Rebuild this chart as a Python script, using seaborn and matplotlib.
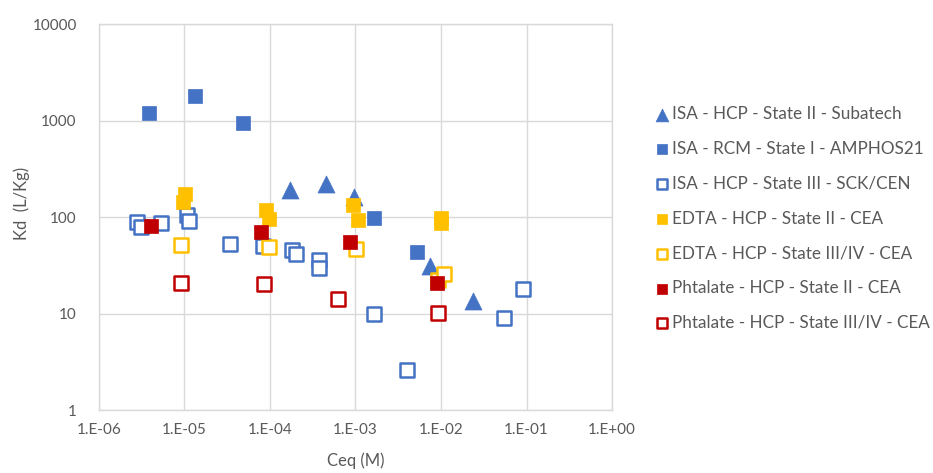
import math
import matplotlib
matplotlib.use("Agg")
import matplotlib.pyplot as plt
import matplotlib.ticker as mticker
import seaborn as sns

sns.set_theme(style="white")
plt.rcParams["font.family"] = ["Lato", "DejaVu Sans"]

BLUE = "#4472C4"
ORANGE = "#FFC000"
RED = "#C00000"
GREY_TEXT = "#595959"
GRID = "#D9D9D9"

# Ceq (M) and Kd (L/Kg) per series
isa_subatech_x = [1.73e-4, 4.48e-4, 9.7e-4, 7.4e-3, 2.35e-2]
isa_subatech_y = [190, 218, 162, 31, 13.5]

isa_amphos_x = [3.9e-6, 1.33e-5, 4.9e-5, 1.65e-3, 5.3e-3]
isa_amphos_y = [1200, 1820, 940, 98, 43]

isa_sck_x = [2.78e-6, 3.08e-6, 5.27e-6, 1.06e-5, 1.14e-5, 3.4e-5, 8.2e-5,
             1.79e-4, 2.0e-4, 3.7e-4, 3.7e-4, 1.65e-3, 4.05e-3, 5.4e-2, 9.2e-2]
isa_sck_y = [89, 79, 86, 105, 92, 53, 50, 46, 41, 36, 29.5, 10, 2.6, 9, 17.8]

edta_ii_x = [1.02e-5, 9.5e-6, 9.1e-5, 9.8e-5, 9.4e-4, 1.08e-3, 9.9e-3, 9.9e-3]
edta_ii_y = [172, 145, 118, 95, 133, 93, 98, 86]

edta_iii_x = [9.0e-6, 9.8e-5, 1.01e-3, 9.2e-3, 1.09e-2]
edta_iii_y = [51, 48.5, 46.6, 22.5, 25.6]

phta_ii_x = [4.06e-6, 7.9e-5, 8.6e-4, 8.9e-3]
phta_ii_y = [81, 70, 55.5, 20.8]

phta_iii_x = [9.0e-6, 8.5e-5, 6.3e-4, 9.2e-3]
phta_iii_y = [20.6, 20.2, 14.1, 10.2]

# axis ticks
x_ticks = [1e-6, 1e-5, 1e-4, 1e-3, 1e-2, 1e-1, 1e0]
y_ticks = [1, 10, 100, 1000, 10000]

labels = [
    "ISA - HCP - State II - Subatech",
    "ISA - RCM - State I - AMPHOS21",
    "ISA - HCP - State III - SCK/CEN",
    "EDTA - HCP - State II - CEA",
    "EDTA - HCP - State III/IV - CEA",
    "Phtalate - HCP - State II - CEA",
    "Phtalate - HCP - State III/IV - CEA",
]

series = [
    (isa_subatech_x, isa_subatech_y, "^", BLUE, True),
    (isa_amphos_x, isa_amphos_y, "s", BLUE, True),
    (isa_sck_x, isa_sck_y, "s", BLUE, False),
    (edta_ii_x, edta_ii_y, "s", ORANGE, True),
    (edta_iii_x, edta_iii_y, "s", ORANGE, False),
    (phta_ii_x, phta_ii_y, "s", RED, True),
    (phta_iii_x, phta_iii_y, "s", RED, False),
]

fig = plt.figure(figsize=(9.33, 4.73), dpi=100)
ax = fig.add_axes([0.106, 0.133, 0.550, 0.816])
ax.set_xscale("log")
ax.set_yscale("log")

for (xs, ys, mk, col, filled), lab in zip(series, labels):
    if filled:
        sns.scatterplot(x=xs, y=ys, marker=mk, color=col, edgecolor=col,
                        linewidth=0.5, s=150 if mk == "^" else 110,
                        label=lab, ax=ax, zorder=3)
    else:
        sns.scatterplot(x=xs, y=ys, marker=mk, color=col, facecolor="white",
                        edgecolor=col, linewidth=1.8, s=95,
                        label=lab, ax=ax, zorder=3)

ax.set_xlim(x_ticks[0], x_ticks[-1])
ax.set_ylim(y_ticks[0], y_ticks[-1])
ax.xaxis.set_major_locator(mticker.FixedLocator(x_ticks))
ax.yaxis.set_major_locator(mticker.FixedLocator(y_ticks))
ax.xaxis.set_minor_locator(mticker.NullLocator())
ax.yaxis.set_minor_locator(mticker.NullLocator())
ax.xaxis.set_major_formatter(
    mticker.FuncFormatter(lambda v, p: "1.E{:+03d}".format(int(round(math.log10(v)))))
)
ax.yaxis.set_major_formatter(mticker.FuncFormatter(lambda v, p: "{:g}".format(v)))

ax.grid(True, which="major", color=GRID, linewidth=1.0)
ax.set_axisbelow(True)
for sp in ax.spines.values():
    sp.set_color(GRID)
    sp.set_linewidth(1.0)
ax.tick_params(axis="both", which="both", length=0, labelsize=11,
               labelcolor=GREY_TEXT)
ax.tick_params(axis="y", pad=16)
ax.tick_params(axis="x", pad=9)

ax.set_xlabel("Ceq (M)", fontsize=12, color=GREY_TEXT)
ax.set_ylabel("Kd  (L/Kg)", fontsize=12, color=GREY_TEXT)
ax.xaxis.set_label_coords(0.5, -0.11)
ax.yaxis.set_label_coords(-0.134, 0.536)

ax.legend_.remove()
handles, labs = ax.get_legend_handles_labels()
leg = fig.legend(handles, labs, loc="upper left", bbox_to_anchor=(0.693, 0.79),
                 frameon=False, fontsize=12.3, labelspacing=1.1,
                 handletextpad=0.1, handlelength=1.0, markerscale=0.75,
                 borderaxespad=0)
for t in leg.get_texts():
    t.set_color(GREY_TEXT)

fig.savefig("out.png", dpi=100)
